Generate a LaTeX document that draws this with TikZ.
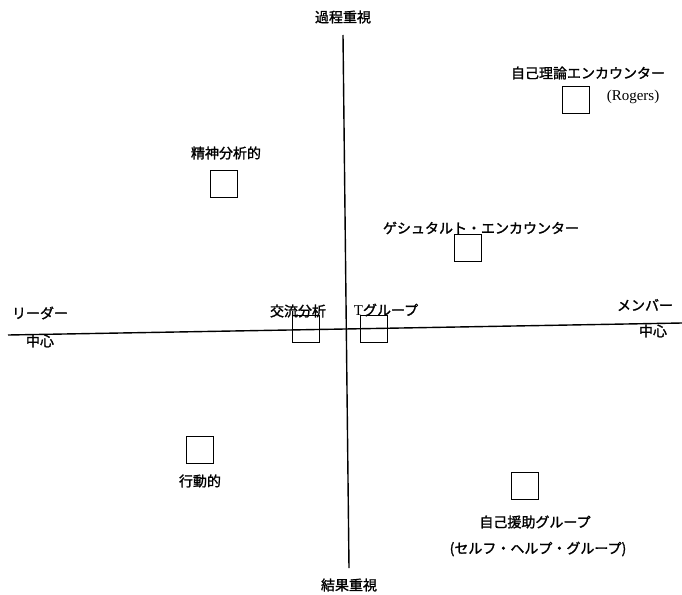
\documentclass[tikz,border=0pt]{standalone}
\usepackage{fontspec}
\newfontfamily\jp[FakeBold=1.5]{Noto Sans CJK JP}
\newfontfamily\lat{Liberation Serif}
\tikzset{
  lbl/.style={font=\jp\fontsize{14}{16}\selectfont, inner sep=0pt},
  ltn/.style={font=\lat\fontsize{15}{17}\selectfont, inner sep=0pt},
  sq/.style={draw, line width=1.4pt, minimum width=27pt, minimum height=27pt, inner sep=0pt},
  axis/.style={line width=1.4pt}
}
\begin{document}
\begin{tikzpicture}[x=1pt,y=-1pt]
\useasboundingbox (0,0) rectangle (682,594);
% axes
\coordinate (vt) at (343,35);
\coordinate (vb) at (349,568);
\coordinate (hl) at (8,335);
\coordinate (hr) at (682,323);
\draw[axis] (vt) -- (vb);
\draw[axis] (hl) -- (hr);
% axis labels
\node[lbl] (top) at (343,17) {過程重視};
\node[lbl] (bot) at (349,585) {結果重視};
\node[lbl] (lead) at (40,313) {リーダー};
\node[lbl] (leadc) at (40,341) {中心};
\node[lbl] (mem) at (645,305) {メンバー};
\node[lbl] (memc) at (653,331) {中心};
% items
\node[lbl] (t1) at (588,73) {自己理論エンカウンター};
\node[sq] (b1) at (576,100) {};
\node[ltn] (r1) at (633,97) {(Rogers)};
\node[lbl] (t2) at (226,153) {精神分析的};
\node[sq] (b2) at (224,184) {};
\node[lbl] (t3) at (481,228) {ゲシュタルト・エンカウンター};
\node[sq] (b3) at (468,248) {};
\node[lbl] (t4) at (298,311) {交流分析};
\node[sq] (b4) at (306,329) {};
\node[lbl] (t5) at (386,310) {{\lat\fontsize{15}{17}\selectfont T}グループ};
\node[sq] (b5) at (374,329) {};
\node[sq] (b6) at (200,450) {};
\node[lbl] (t6) at (200,481) {行動的};
\node[sq] (b7) at (525,486) {};
\node[lbl] (t7) at (535,522) {自己援助グループ};
\node[lbl] (t8) at (538,549) {(セルフ・ヘルプ・グループ)};
\end{tikzpicture}
\end{document}
